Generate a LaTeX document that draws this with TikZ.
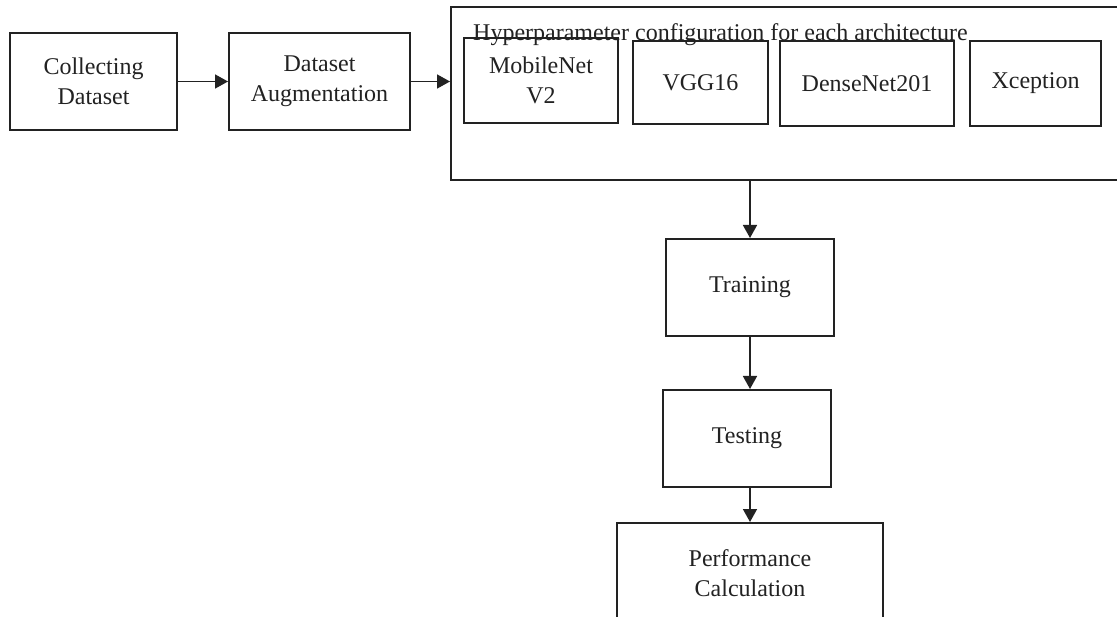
\documentclass[tikz,border=0pt]{standalone}
\usepackage{fontspec}
\setmainfont{Liberation Serif}
\usetikzlibrary{arrows.meta}
\definecolor{flowink}{HTML}{222222}

\begin{document}
\begin{tikzpicture}[x=1pt,y=-1pt,>={Triangle[length=13pt,width=14pt]},
  line cap=butt,line join=miter,
  font=\fontsize{24}{30}\selectfont,text=flowink,
  stage/.style={draw=flowink,line width=2pt,align=center,inner sep=0pt},
  model/.style={stage,minimum height=85pt},
  flow/.style={->,draw=flowink,line width=1.6pt}]
\path[use as bounding box] (0,0) rectangle (1117,617);
\clip (0,0) rectangle (1117,617);
\fill[white] (0,0) rectangle (1117,617);

% data preparation
\node[stage,minimum width=167pt,minimum height=97pt] (collect) at (93.5,81.5) {Collecting\\Dataset};
\node[stage,minimum width=181pt,minimum height=97pt] (augment) at (319.5,81.5) {Dataset\\Augmentation};

% hyperparameter block with the four networks (runs off the right edge)
\node[stage,minimum width=675pt,minimum height=173pt] (hyper) at (788.5,93.5) {};
\node[anchor=base west,inner sep=0pt] (hypertitle) at (473,41) {Hyperparameter configuration for each architecture};
\node[model,minimum width=154pt] (mobilenet) at (541,80.5) {MobileNet\\V2};
\node[model,minimum width=135pt,minimum height=83pt] (vgg) at (700.5,82.5) {VGG16};
\node[model,minimum width=174pt] (densenet) at (867,83.5) {DenseNet201};
\node[model,minimum width=131pt] (xception) at (1035.5,83.5) {Xception};

% training and evaluation
\node[stage,minimum width=168pt,minimum height=97pt] (training) at (750,287.5) {Training};
\node[stage,minimum width=168pt,minimum height=97pt] (testing) at (747,438.5) {Testing};
\node[stage,minimum width=266pt,minimum height=100pt] (perf) at (750,573) {Performance\\Calculation};

\draw[flow] (collect) -- (augment);
\draw[flow] (augment.east) -- (augment.east -| hyper.west);
\draw[flow] (training.north |- hyper.south) -- (training.north);
\draw[flow] (training.south) -- (training.south |- testing.north);
\draw[flow] (perf.north |- testing.south) -- (perf.north);
\end{tikzpicture}
\end{document}
